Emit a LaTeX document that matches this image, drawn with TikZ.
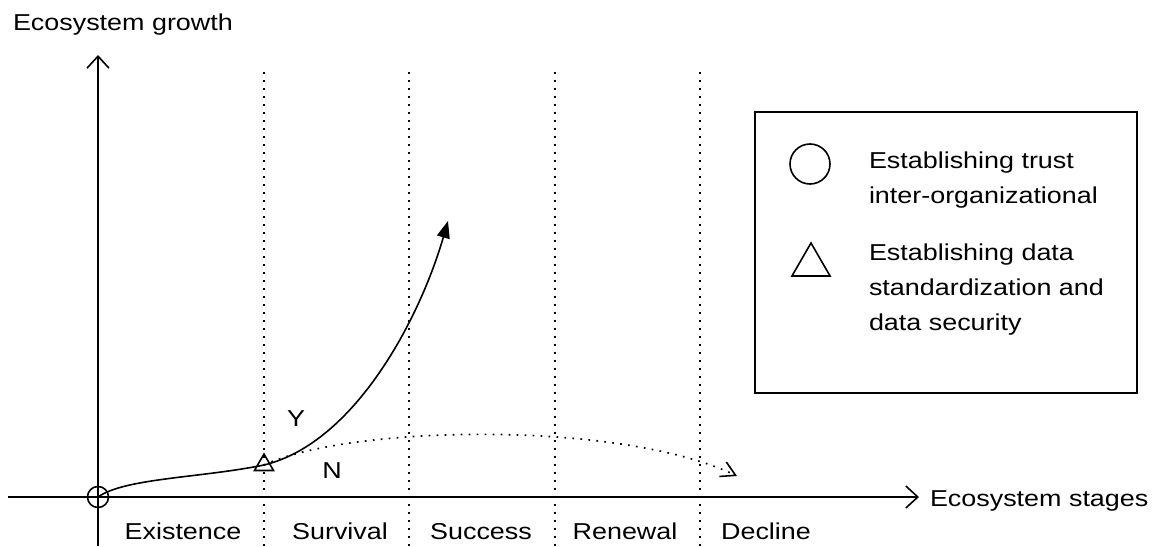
\documentclass[tikz,border=0pt]{standalone}
\usepackage{fontspec}
\setmainfont[FakeStretch=1.17]{Liberation Sans}
\usetikzlibrary{arrows.meta,shapes.geometric}
\begin{document}
\begin{tikzpicture}[x=1pt,y=-1pt,
  every node/.style={inner sep=0pt,outer sep=0pt},
  txt/.style={font=\fontsize{23}{28}\selectfont},
  axis/.style={line width=1.6pt,-{Straight Barb[length=12pt,width=22pt]}},
  stageline/.style={line width=1.7pt,dash pattern=on 1.7pt off 6.3pt},
  marker/.style={draw,line width=1.6pt},
  tri/.style={marker,regular polygon,regular polygon sides=3}]
\useasboundingbox (0,0) rectangle (1158,546);

% axes
\coordinate (ybot) at (98,546);
\coordinate (ytop) at (98,55);
\coordinate (xl) at (8,497);
\coordinate (xr) at (919,497);
\draw[axis] (ybot) -- (ytop);
\draw[axis] (xl) -- (xr);
\node[txt,anchor=base west] (ylab) at (13,30) {Ecosystem growth};
\node[txt,anchor=base west] (xlab) at (930,506) {Ecosystem stages};

% stage separators
\foreach \x/\n in {264/a,409/b,555/c,700/d}{
  \coordinate (s\n t) at (\x,72);
  \coordinate (s\n b) at (\x,546);
  \draw[stageline] (s\n t) -- (s\n b);
}

% stage names
\node[txt,anchor=base] (st1) at (183,539) {Existence};
\node[txt,anchor=base] (st2) at (340,539) {Survival};
\node[txt,anchor=base] (st3) at (481,539) {Success};
\node[txt,anchor=base] (st4) at (625,539) {Renewal};
\node[txt,anchor=base] (st5) at (766,539) {Decline};

% milestones on the curve
\node[marker,circle,minimum size=21pt] (o) at (98,497) {};
\node[tri,minimum size=22pt] (t) at (264,465) {};

% growth paths
\coordinate (yend) at (448,221);
\coordinate (nend) at (737,476);
\draw[stageline,-{Straight Barb[length=14pt,width=16pt,line width=1.6pt]}]
  (t.center) .. controls (350,425) and (620,420) .. (nend);
\draw[line width=1.6pt] (o.center) .. controls (125,478) and (200,478) .. (t.center);
\draw[line width=1.6pt,-{Triangle[length=17pt,width=13pt]}]
  (t.center) .. controls (355,443) and (420,318) .. (yend);
\node[txt] (ylbl) at (296,419) {Y};
\node[txt] (nlbl) at (332,471) {N};

% legend
\node[draw,line width=1.6pt,minimum width=382pt,minimum height=281pt,anchor=north west] (box) at (755,112) {};
\node[marker,circle,minimum size=40pt] (lc) at (810,164) {};
\node[tri,minimum size=44pt] (lt) at (811,265) {};
\node[txt,anchor=base west] (lc1) at (869,168) {Establishing trust};
\node[txt,anchor=base west] (lc2) at (869,203) {inter-organizational};
\node[txt,anchor=base west] (lt1) at (869,260) {Establishing data};
\node[txt,anchor=base west] (lt2) at (869,295) {standardization and};
\node[txt,anchor=base west] (lt3) at (869,330) {data security};
\end{tikzpicture}
\end{document}
